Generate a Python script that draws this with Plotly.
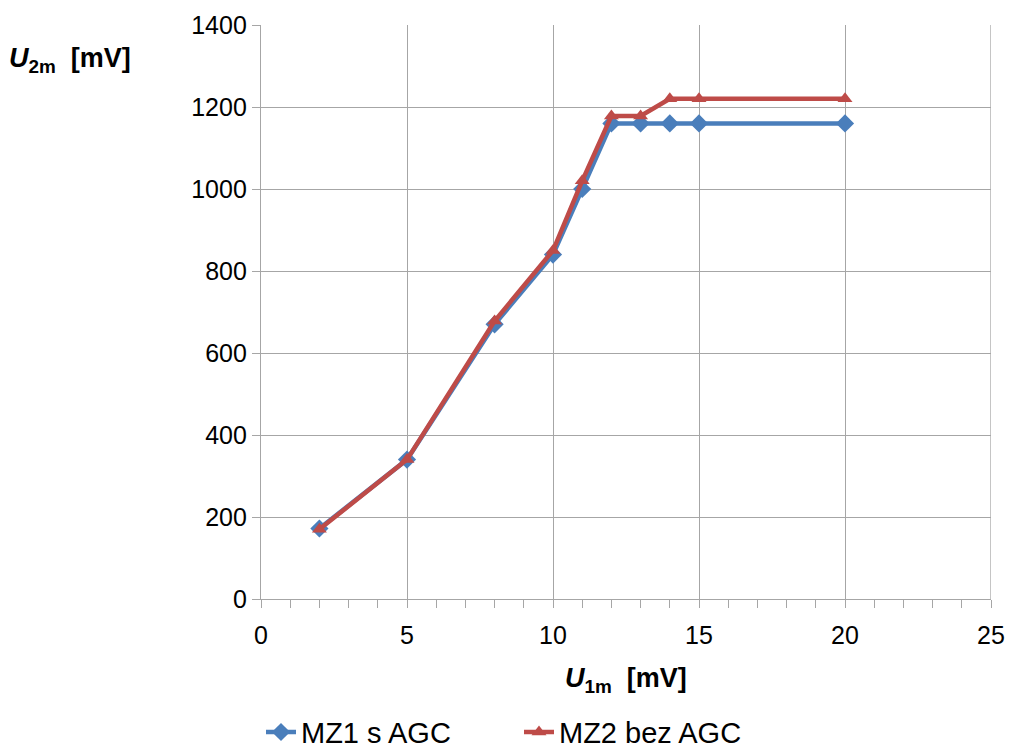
import plotly.graph_objects as go

x_vals = [2, 5, 8, 10, 11, 12, 13, 14, 15, 20]
mz1 = [172, 340, 670, 840, 1000, 1160, 1160, 1160, 1160, 1160]
mz2 = [170, 340, 678, 850, 1020, 1178, 1178, 1220, 1220, 1220]
names = ["MZ1 s AGC", "MZ2 bez AGC"]

FONT = "Liberation Sans, Arial, sans-serif"
GRID = "#a6a6a6"
fig = go.Figure()
fig.add_trace(go.Scatter(x=x_vals, y=mz1, name=names[0], mode="lines+markers",
                         line=dict(color="#4a7ebb", width=4.5),
                         marker=dict(symbol="diamond", size=14, color="#4a7ebb")))
fig.add_trace(go.Scatter(x=x_vals, y=mz2, name=names[1], mode="lines+markers",
                         line=dict(color="#be4b48", width=4.5),
                         marker=dict(symbol="triangle-up", size=13, color="#be4b48")))

fig.update_layout(
    width=1009, height=749,
    margin=dict(l=261, r=18, t=25, b=150, autoexpand=False),
    paper_bgcolor="white", plot_bgcolor="white",
    font=dict(family=FONT, size=25, color="#000"),
    showlegend=True,
    legend=dict(orientation="h", x=0.0, xanchor="left", y=-0.232, yanchor="middle",
                font=dict(size=29), tracegroupgap=0, entrywidth=213),
    xaxis=dict(range=[0, 25], tickvals=[0, 5, 10, 15, 20, 25], showgrid=True,
               gridcolor=GRID, gridwidth=1.3, showline=True, linecolor=GRID,
               linewidth=1.3, ticks="outside", ticklen=8, tickcolor=GRID,
               minor=dict(dtick=1, ticks="outside", ticklen=8, tickcolor=GRID, showgrid=False),
               zeroline=False, tickfont=dict(size=25), ticklabelstandoff=6),
    yaxis=dict(range=[0, 1400], dtick=200, showgrid=True, gridcolor=GRID, gridwidth=1.3,
               showline=True, linecolor=GRID, linewidth=1.3, ticks="outside", ticklen=8,
               tickcolor=GRID, zeroline=False, tickfont=dict(size=25)),
)
fig.add_shape(type="line", xref="x", yref="paper", x0=25, x1=25, y0=0, y1=1,
              line=dict(color=GRID, width=1.3))

fig.add_annotation(text="<b><i>U</i><sub>2m</sub>  [mV]</b>", xref="paper", yref="paper",
                   x=-0.262, y=0.939, xanchor="center", yanchor="middle", showarrow=False,
                   font=dict(size=27))
fig.add_annotation(text="<b><i>U</i><sub>1m</sub>  [mV]</b>", xref="paper", yref="paper",
                   x=0.5, y=-0.141, xanchor="center", yanchor="middle", showarrow=False,
                   font=dict(size=27))

fig.write_html("out.html", config={"displayModeBar": False},
               post_script="document.body.style.margin='0';")
